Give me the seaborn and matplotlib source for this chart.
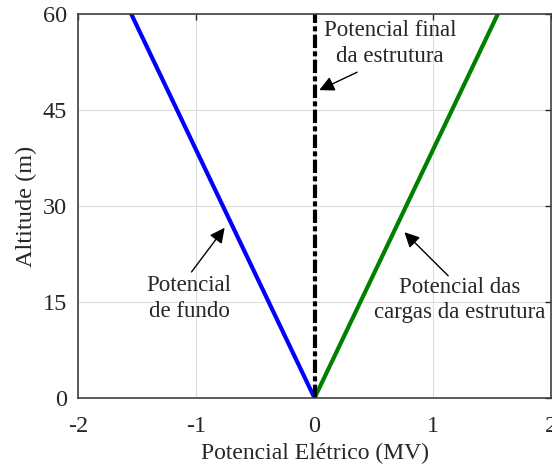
import matplotlib
matplotlib.use("Agg")
import matplotlib.pyplot as plt
import seaborn as sns
import pandas as pd

# Data
altitude = [0, 60]
pot_fundo = [0, -1.55]
pot_cargas = [0, 1.55]
pot_final = [0, 0]
x_ticks = [-2, -1, 0, 1, 2]
y_ticks = [0, 15, 30, 45, 60]

sns.set_style("white")
plt.rcParams['font.family'] = ['Liberation Serif', 'DejaVu Serif']

fig = plt.figure(figsize=(5.52, 4.65), dpi=100)
ax = fig.add_axes([0.1413, 0.144, 0.857, 0.826])

df_f = pd.DataFrame({"x": pot_fundo, "y": altitude})
df_c = pd.DataFrame({"x": pot_cargas, "y": altitude})
df_t = pd.DataFrame({"x": pot_final, "y": altitude})

sns.lineplot(data=df_f, x="x", y="y", ax=ax, color="#0000ff", linewidth=3, sort=False, estimator=None)
sns.lineplot(data=df_c, x="x", y="y", ax=ax, color="#008000", linewidth=3, sort=False, estimator=None)
sns.lineplot(data=df_t, x="x", y="y", ax=ax, color="black", linewidth=3, sort=False, estimator=None,
             linestyle=(0, (3.2, 0.8, 1.2, 0.8)))

ax.set_xlim(-2, 2)
ax.set_ylim(0, 60)
ax.set_xticks(x_ticks)
ax.set_yticks(y_ticks)
ax.set_xticklabels([str(v) for v in x_ticks])
ax.set_yticklabels([str(v) for v in y_ticks])
ax.grid(True, color="#dcdcdc", linewidth=0.8)
ax.set_axisbelow(True)
ax.tick_params(direction="in", length=4, width=1, colors="#262626", labelsize=17.5,
               top=True, right=True, labelcolor="#262626")
ax.tick_params(axis="x", pad=13)
ax.tick_params(axis="y", pad=8)
for s in ax.spines.values():
    s.set_color("#404040")
    s.set_linewidth(1.2)
    s.set_visible(True)

ax.set_xlabel("Potencial Elétrico (MV)", fontsize=17, color="#262626", labelpad=4)
ax.set_ylabel("Altitude (m)", fontsize=17.5, color="#262626", labelpad=4)

arrow = dict(arrowstyle="-|>,head_length=0.9,head_width=0.45", color="black", lw=1.0, shrinkA=0, shrinkB=0)
fs = 16.5
ax.annotate("", xy=(0.04, 48.1), xytext=(0.36, 50.9), arrowprops=arrow)
ax.text(0.64, 55.4, "Potencial final\nda estrutura", ha="center", va="center", fontsize=fs, linespacing=1.3)

ax.annotate("", xy=(-0.76, 26.6), xytext=(-1.04, 19.7), arrowprops=arrow)
ax.text(-1.06, 15.6, "Potencial\nde fundo", ha="center", va="center", fontsize=fs, linespacing=1.3)

ax.annotate("", xy=(0.76, 25.9), xytext=(1.13, 19.1), arrowprops=arrow)
ax.text(1.23, 15.3, "Potencial das\ncargas da estrutura", ha="center", va="center", fontsize=fs, linespacing=1.3)

fig.savefig("out.png", dpi=100)
